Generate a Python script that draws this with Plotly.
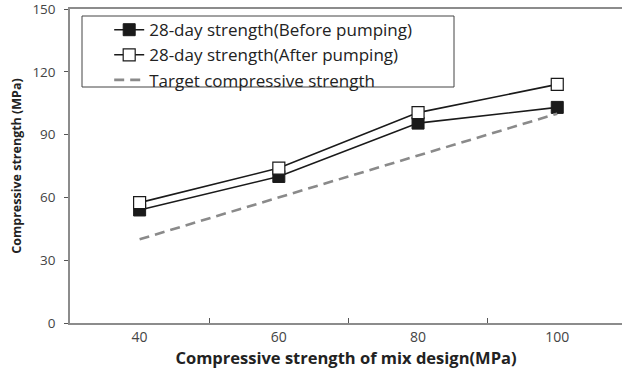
import plotly.graph_objects as go

mix_design = [40, 60, 80, 100]
before_pumping = [54, 70, 95.5, 103]
after_pumping = [57.5, 74, 100.5, 114]
target = [40, 60, 80, 100]

x_tick_labels = ["40", "60", "80", "100"]
y_ticks = [0, 30, 60, 90, 120, 150]

fig = go.Figure()
fig.add_trace(go.Scatter(
    x=mix_design, y=before_pumping, mode="lines+markers",
    name="28-day strength(Before pumping)",
    line=dict(color="#1a1a1a", width=1.6),
    marker=dict(symbol="square", size=12, color="#1a1a1a", line=dict(color="#1a1a1a", width=1)),
))
fig.add_trace(go.Scatter(
    x=mix_design, y=after_pumping, mode="lines+markers",
    name="28-day strength(After pumping)",
    line=dict(color="#1a1a1a", width=1.6),
    marker=dict(symbol="square", size=12, color="white", line=dict(color="#1a1a1a", width=1.2)),
))
fig.add_trace(go.Scatter(
    x=mix_design, y=target, mode="lines",
    name="Target compressive strength",
    line=dict(color="#8a8a8a", width=2.6, dash="10px,6px"),
))

fig.update_layout(
    width=622, height=372,
    margin=dict(l=70, r=0, t=9, b=49),
    paper_bgcolor="white", plot_bgcolor="white",
    font=dict(family="Open Sans", color="#333"),
    showlegend=True,
    legend=dict(
        x=0.071, y=0.99, xanchor="left", yanchor="top",
        bgcolor="rgba(0,0,0,0)", borderwidth=0,
        font=dict(size=17, color="#222"),
        tracegroupgap=0, itemwidth=30,
    ),
    xaxis=dict(
        range=[30, 109.3], automargin=False,
        tickvals=mix_design, ticktext=x_tick_labels, ticks="",
        tickfont=dict(size=14, color="#444"),
        showgrid=False, zeroline=False,
        showline=True, linecolor="#8c8c8c", linewidth=1.5, mirror=True,
        minor=dict(tickvals=[50, 70, 90], ticks="inside", ticklen=5, tickcolor="#555", tickwidth=1),
        title=dict(text="<b>Compressive strength of mix design(MPa)</b>", font=dict(size=16.5, color="#222"), standoff=6),
    ),
    yaxis=dict(
        range=[0, 150.01], automargin=False,
        tickvals=y_ticks, ticks="outside", ticklen=4, tickcolor="#555",
        tickfont=dict(size=13.5, color="#444"),
        ticklabeloverflow="allow", ticklabelstandoff=6,
        showgrid=False, zeroline=False,
        showline=True, linecolor="#8c8c8c", linewidth=1.5, mirror=False,
        title=dict(text="<b>Compressive strength (MPa)</b>", font=dict(size=12.5, color="#222"), standoff=8),
    ),
    shapes=[dict(
        type="rect", xref="paper", yref="paper",
        x0=(82 - 70) / 552, x1=(454 - 70) / 552,
        y0=(323 - 87) / 314, y1=(323 - 16) / 314,
        line=dict(color="#444", width=1), fillcolor="rgba(0,0,0,0)",
    )],
)

fig.write_html("out.html")
